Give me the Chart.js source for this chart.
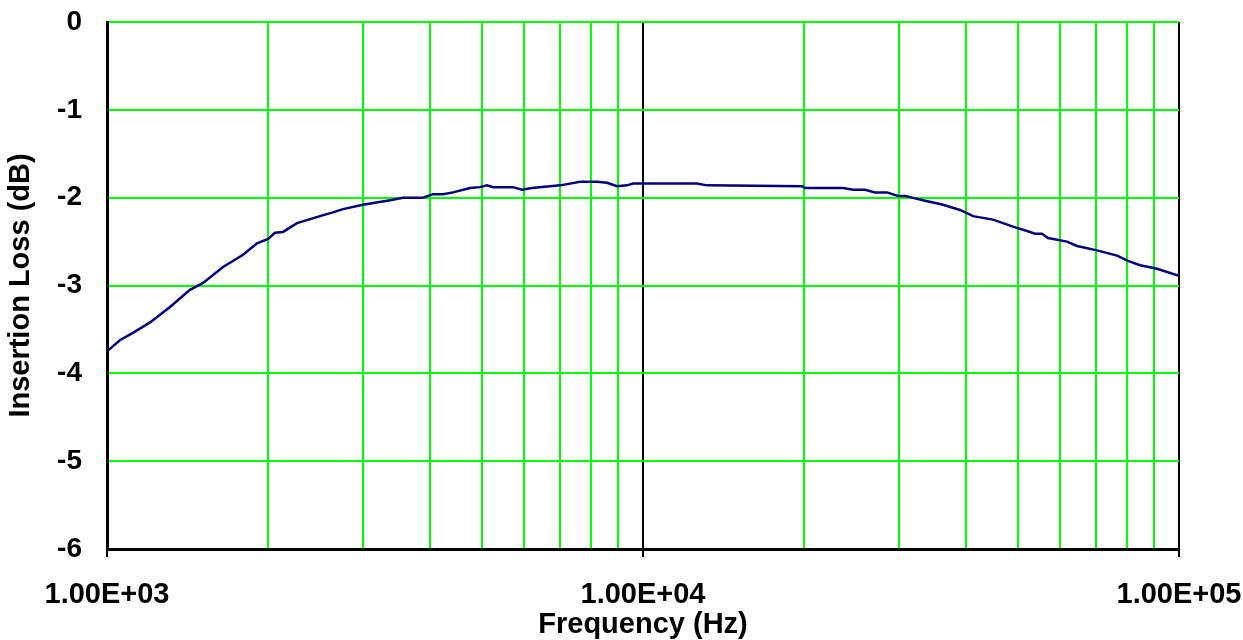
<!DOCTYPE html>
<html>
<head>
<meta charset="utf-8">
<script src="https://cdn.jsdelivr.net/npm/chart.js@4"></script>
<style>
html,body{margin:0;padding:0;background:#fff;}
#wrap{width:1243px;height:640px;position:relative;}
</style>
</head>
<body>
<div id="wrap"><canvas id="c" width="1243" height="640"></canvas></div>
<script>
const frequencyHz = [1000,1058,1118,1203,1311,1428,1511,1646,1794,1905,1998,2058,2130,2262,2497,2629,2756,3003,3373,3566,3886,4057,4236,4422,4756,4965,5117,5250,5722,5947,6208,6708,7002,7310,7630,8208,8567,8944,9337,9579,10000,12615,13165,19804,20059,23610,24650,25960,27090,28520,29910,30830,33300,36290,39040,41280,44980,49010,52050,53860,55510,56960,61810,64530,70310,76630,80340,84600,91000,100000];
const insertionLossDb = [-3.75,-3.62,-3.54,-3.42,-3.245,-3.05,-2.97,-2.79,-2.65,-2.52,-2.47,-2.40,-2.39,-2.29,-2.21,-2.17,-2.13,-2.08,-2.03,-2.00,-2.00,-1.96,-1.96,-1.94,-1.89,-1.88,-1.86,-1.88,-1.88,-1.91,-1.89,-1.87,-1.86,-1.84,-1.82,-1.82,-1.83,-1.87,-1.86,-1.84,-1.84,-1.84,-1.86,-1.87,-1.89,-1.89,-1.91,-1.91,-1.94,-1.94,-1.98,-1.98,-2.03,-2.08,-2.14,-2.21,-2.25,-2.33,-2.38,-2.41,-2.41,-2.46,-2.50,-2.55,-2.60,-2.66,-2.72,-2.77,-2.81,-2.89];
const xTickValues = [1000,2000,3000,4000,5000,6000,7000,8000,9000,10000,20000,30000,40000,50000,60000,70000,80000,90000,100000];
const yTickValues = [0,-1,-2,-3,-4,-5,-6];

const isDecade = v => Math.abs(Math.log10(v) - Math.round(Math.log10(v))) < 1e-9;
const fmtE = v => {
  const e = Math.round(Math.log10(v));
  const m = v / Math.pow(10, e);
  return m.toFixed(2) + 'E' + (e >= 0 ? '+' : '-') + String(Math.abs(e)).padStart(2, '0');
};
const GREEN = '#00ff00';
const FONT = "'Liberation Sans', Arial, sans-serif";

new Chart(document.getElementById('c'), {
  type: 'line',
  data: {
    datasets: [{
      data: frequencyHz.map((f, i) => ({x: f, y: insertionLossDb[i]})),
      borderColor: '#000080',
      borderWidth: 2.5,
      pointRadius: 0,
      tension: 0,
      fill: false
    }]
  },
  options: {
    responsive: false,
    animation: false,
    layout: {padding: {top: 22, right: 64, left: 0, bottom: 0}},
    plugins: {legend: {display: false}, tooltip: {enabled: false}},
    scales: {
      x: {
        type: 'logarithmic',
        min: 1000, max: 100000,
        afterBuildTicks: s => { s.ticks = xTickValues.map(v => ({value: v})); },
        afterFit: s => { s.height = 91; s.paddingLeft = 0; s.paddingRight = 0; },
        border: {display: true, color: '#000', width: 3},
        grid: {
          color: c => isDecade(c.tick.value) ? '#000' : GREEN,
          lineWidth: 2,
          drawTicks: true,
          tickLength: 8,
          tickColor: c => isDecade(c.tick.value) ? '#000' : 'rgba(0,0,0,0)',
          tickWidth: 2
        },
        ticks: {
          autoSkip: false, maxRotation: 0, minRotation: 0,
          padding: 21,
          color: '#000',
          font: {family: FONT, size: 29, weight: 'bold'},
          callback: v => isDecade(v) ? fmtE(v) : ''
        },
        title: {
          display: true, text: 'Frequency (Hz)', color: '#000',
          font: {family: FONT, size: 29, weight: 'bold', lineHeight: 1},
          padding: {top: 0, bottom: 1}
        }
      },
      y: {
        type: 'linear',
        min: -6, max: 0,
        afterBuildTicks: s => { s.ticks = yTickValues.map(v => ({value: v})); },
        afterFit: s => { s.width = 107; s.paddingTop = 0; s.paddingBottom = 0; },
        border: {display: true, color: '#000', width: 3},
        grid: {color: c => c.tick.value === -6 ? '#000' : GREEN, lineWidth: 2, drawTicks: false},
        ticks: {
          padding: 25, color: '#000',
          font: {family: FONT, size: 28, weight: 'bold'},
          callback: v => String(v)
        },
        title: {
          display: true, text: 'Insertion Loss (dB)', color: '#000',
          font: {family: FONT, size: 29, weight: 'bold', lineHeight: 1},
          padding: {top: 6, bottom: 0}
        }
      }
    }
  }
});
</script>
</body>
</html>
